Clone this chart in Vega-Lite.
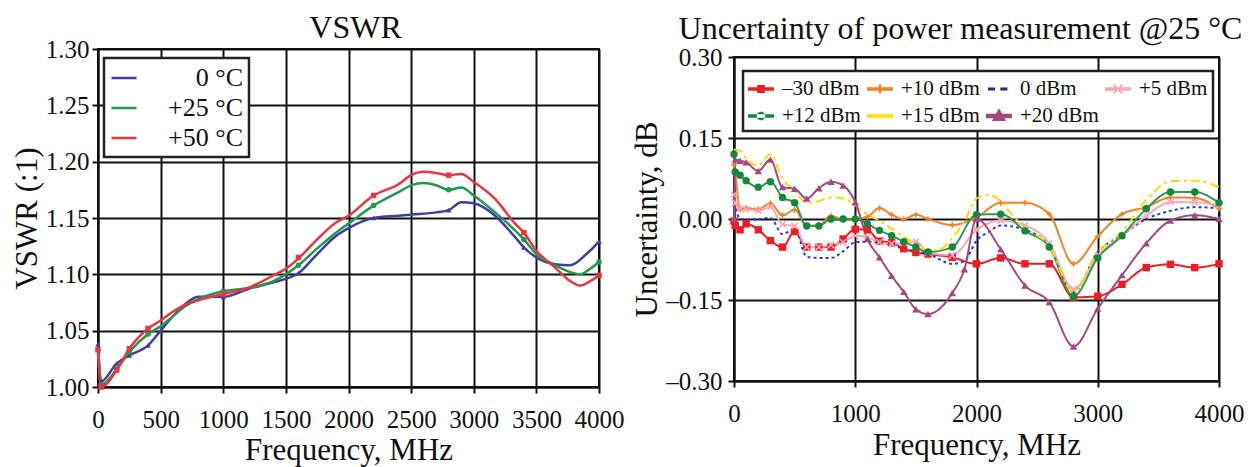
{
  "$schema": "https://vega.github.io/schema/vega-lite/v6.json",
  "padding": {"left": 10, "top": 11, "right": 5, "bottom": 5},
  "bounds": "flush",
  "spacing": 135,
  "resolve": {"scale": {"color": "independent", "shape": "independent", "strokeDash": "independent", "strokeWidth": "independent"}, "legend": {"color": "independent", "shape": "independent", "strokeDash": "independent", "strokeWidth": "independent"}},
  "config": {
    "font": "Liberation Serif",
    "view": {"stroke": "#111", "strokeWidth": 2},
    "axis": {"domainColor": "#111", "domainWidth": 2, "gridColor": "#111", "gridWidth": 2, "gridOpacity": 1, "tickColor": "#111", "tickWidth": 2, "tickSize": 6, "labelFont": "Liberation Serif", "labelFontSize": 25, "labelColor": "#111", "titleFont": "Liberation Serif", "titleFontSize": 31, "titleFontWeight": "normal", "titleColor": "#111", "labelOverlap": false, "labelFlush": false},
    "title": {"font": "Liberation Serif", "fontWeight": "normal", "color": "#111", "anchor": "middle"},
    "legend": {"labelFont": "Liberation Serif", "labelColor": "#111"}
  },
  "datasets": {
    "vswr": [
      {"s": "0 °C", "f": 0, "v": 1.038}, {"s": "0 °C", "f": 25, "v": 1.005}, {"s": "0 °C", "f": 150, "v": 1.021}, {"s": "0 °C", "f": 250, "v": 1.028}, {"s": "0 °C", "f": 400, "v": 1.037}, {"s": "0 °C", "f": 500, "v": 1.05}, {"s": "0 °C", "f": 600, "v": 1.063}, {"s": "0 °C", "f": 700, "v": 1.074}, {"s": "0 °C", "f": 800, "v": 1.08}, {"s": "0 °C", "f": 1000, "v": 1.08}, {"s": "0 °C", "f": 1200, "v": 1.087}, {"s": "0 °C", "f": 1400, "v": 1.093}, {"s": "0 °C", "f": 1500, "v": 1.096}, {"s": "0 °C", "f": 1600, "v": 1.101}, {"s": "0 °C", "f": 1750, "v": 1.118}, {"s": "0 °C", "f": 1900, "v": 1.134}, {"s": "0 °C", "f": 2000, "v": 1.141}, {"s": "0 °C", "f": 2200, "v": 1.15}, {"s": "0 °C", "f": 2400, "v": 1.152}, {"s": "0 °C", "f": 2500, "v": 1.153}, {"s": "0 °C", "f": 2700, "v": 1.155}, {"s": "0 °C", "f": 2800, "v": 1.157}, {"s": "0 °C", "f": 2900, "v": 1.164}, {"s": "0 °C", "f": 3000, "v": 1.163}, {"s": "0 °C", "f": 3170, "v": 1.152}, {"s": "0 °C", "f": 3330, "v": 1.133}, {"s": "0 °C", "f": 3400, "v": 1.124}, {"s": "0 °C", "f": 3500, "v": 1.115}, {"s": "0 °C", "f": 3650, "v": 1.109}, {"s": "0 °C", "f": 3770, "v": 1.108}, {"s": "0 °C", "f": 3900, "v": 1.118}, {"s": "0 °C", "f": 4000, "v": 1.129},
      {"s": "+25 °C", "f": 0, "v": 1.035}, {"s": "+25 °C", "f": 25, "v": 1.002}, {"s": "+25 °C", "f": 150, "v": 1.016}, {"s": "+25 °C", "f": 250, "v": 1.031}, {"s": "+25 °C", "f": 400, "v": 1.047}, {"s": "+25 °C", "f": 500, "v": 1.054}, {"s": "+25 °C", "f": 600, "v": 1.063}, {"s": "+25 °C", "f": 700, "v": 1.072}, {"s": "+25 °C", "f": 800, "v": 1.078}, {"s": "+25 °C", "f": 1000, "v": 1.085}, {"s": "+25 °C", "f": 1200, "v": 1.088}, {"s": "+25 °C", "f": 1400, "v": 1.094}, {"s": "+25 °C", "f": 1500, "v": 1.1}, {"s": "+25 °C", "f": 1600, "v": 1.108}, {"s": "+25 °C", "f": 1750, "v": 1.123}, {"s": "+25 °C", "f": 1900, "v": 1.137}, {"s": "+25 °C", "f": 2000, "v": 1.145}, {"s": "+25 °C", "f": 2200, "v": 1.161}, {"s": "+25 °C", "f": 2400, "v": 1.173}, {"s": "+25 °C", "f": 2500, "v": 1.179}, {"s": "+25 °C", "f": 2600, "v": 1.181}, {"s": "+25 °C", "f": 2700, "v": 1.179}, {"s": "+25 °C", "f": 2800, "v": 1.175}, {"s": "+25 °C", "f": 2900, "v": 1.177}, {"s": "+25 °C", "f": 3000, "v": 1.17}, {"s": "+25 °C", "f": 3170, "v": 1.155}, {"s": "+25 °C", "f": 3330, "v": 1.139}, {"s": "+25 °C", "f": 3400, "v": 1.131}, {"s": "+25 °C", "f": 3500, "v": 1.118}, {"s": "+25 °C", "f": 3650, "v": 1.108}, {"s": "+25 °C", "f": 3770, "v": 1.102}, {"s": "+25 °C", "f": 3850, "v": 1.1}, {"s": "+25 °C", "f": 3930, "v": 1.105}, {"s": "+25 °C", "f": 4000, "v": 1.111},
      {"s": "+50 °C", "f": 0, "v": 1.033}, {"s": "+50 °C", "f": 25, "v": 1.0}, {"s": "+50 °C", "f": 150, "v": 1.015}, {"s": "+50 °C", "f": 250, "v": 1.034}, {"s": "+50 °C", "f": 400, "v": 1.052}, {"s": "+50 °C", "f": 500, "v": 1.059}, {"s": "+50 °C", "f": 600, "v": 1.067}, {"s": "+50 °C", "f": 700, "v": 1.073}, {"s": "+50 °C", "f": 800, "v": 1.077}, {"s": "+50 °C", "f": 1000, "v": 1.0825}, {"s": "+50 °C", "f": 1200, "v": 1.088}, {"s": "+50 °C", "f": 1400, "v": 1.099}, {"s": "+50 °C", "f": 1500, "v": 1.105}, {"s": "+50 °C", "f": 1600, "v": 1.114}, {"s": "+50 °C", "f": 1750, "v": 1.131}, {"s": "+50 °C", "f": 1900, "v": 1.146}, {"s": "+50 °C", "f": 2000, "v": 1.152}, {"s": "+50 °C", "f": 2200, "v": 1.17}, {"s": "+50 °C", "f": 2400, "v": 1.18}, {"s": "+50 °C", "f": 2500, "v": 1.188}, {"s": "+50 °C", "f": 2600, "v": 1.191}, {"s": "+50 °C", "f": 2700, "v": 1.19}, {"s": "+50 °C", "f": 2800, "v": 1.188}, {"s": "+50 °C", "f": 2900, "v": 1.189}, {"s": "+50 °C", "f": 3000, "v": 1.182}, {"s": "+50 °C", "f": 3170, "v": 1.167}, {"s": "+50 °C", "f": 3330, "v": 1.145}, {"s": "+50 °C", "f": 3400, "v": 1.137}, {"s": "+50 °C", "f": 3500, "v": 1.121}, {"s": "+50 °C", "f": 3650, "v": 1.106}, {"s": "+50 °C", "f": 3770, "v": 1.094}, {"s": "+50 °C", "f": 3850, "v": 1.09}, {"s": "+50 °C", "f": 3930, "v": 1.094}, {"s": "+50 °C", "f": 4000, "v": 1.099}
    ],
    "vswrm": [
      {"s": "0 °C", "f": 0, "v": 1.038}, {"s": "0 °C", "f": 25, "v": 1.005}, {"s": "0 °C", "f": 150, "v": 1.021}, {"s": "0 °C", "f": 250, "v": 1.028}, {"s": "0 °C", "f": 400, "v": 1.037}, {"s": "0 °C", "f": 500, "v": 1.05}, {"s": "0 °C", "f": 1000, "v": 1.08}, {"s": "0 °C", "f": 1600, "v": 1.101}, {"s": "0 °C", "f": 2200, "v": 1.15}, {"s": "0 °C", "f": 2800, "v": 1.157}, {"s": "0 °C", "f": 3400, "v": 1.124}, {"s": "0 °C", "f": 4000, "v": 1.129},
      {"s": "+25 °C", "f": 25, "v": 1.002}, {"s": "+25 °C", "f": 150, "v": 1.016}, {"s": "+25 °C", "f": 250, "v": 1.031}, {"s": "+25 °C", "f": 400, "v": 1.047}, {"s": "+25 °C", "f": 1000, "v": 1.085}, {"s": "+25 °C", "f": 1600, "v": 1.108}, {"s": "+25 °C", "f": 2200, "v": 1.161}, {"s": "+25 °C", "f": 2800, "v": 1.175}, {"s": "+25 °C", "f": 3400, "v": 1.131}, {"s": "+25 °C", "f": 4000, "v": 1.111},
      {"s": "+50 °C", "f": 0, "v": 1.033}, {"s": "+50 °C", "f": 25, "v": 1.0}, {"s": "+50 °C", "f": 150, "v": 1.015}, {"s": "+50 °C", "f": 250, "v": 1.034}, {"s": "+50 °C", "f": 400, "v": 1.052}, {"s": "+50 °C", "f": 1000, "v": 1.0825}, {"s": "+50 °C", "f": 1600, "v": 1.115}, {"s": "+50 °C", "f": 2200, "v": 1.17}, {"s": "+50 °C", "f": 2800, "v": 1.188}, {"s": "+50 °C", "f": 3400, "v": 1.137}, {"s": "+50 °C", "f": 4000, "v": 1.099}
    ],
    "unc": [
      {"s": "–30 dBm", "f": 0, "v": -0.004}, {"s": "–30 dBm", "f": 10, "v": -0.012}, {"s": "–30 dBm", "f": 50, "v": -0.02}, {"s": "–30 dBm", "f": 100, "v": -0.009}, {"s": "–30 dBm", "f": 200, "v": -0.02}, {"s": "–30 dBm", "f": 300, "v": -0.04}, {"s": "–30 dBm", "f": 400, "v": -0.052}, {"s": "–30 dBm", "f": 500, "v": -0.023}, {"s": "–30 dBm", "f": 600, "v": -0.052}, {"s": "–30 dBm", "f": 700, "v": -0.052}, {"s": "–30 dBm", "f": 800, "v": -0.052}, {"s": "–30 dBm", "f": 900, "v": -0.037}, {"s": "–30 dBm", "f": 1000, "v": -0.019}, {"s": "–30 dBm", "f": 1100, "v": -0.02}, {"s": "–30 dBm", "f": 1200, "v": -0.041}, {"s": "–30 dBm", "f": 1300, "v": -0.044}, {"s": "–30 dBm", "f": 1400, "v": -0.055}, {"s": "–30 dBm", "f": 1500, "v": -0.062}, {"s": "–30 dBm", "f": 1600, "v": -0.065}, {"s": "–30 dBm", "f": 1800, "v": -0.071}, {"s": "–30 dBm", "f": 2000, "v": -0.083}, {"s": "–30 dBm", "f": 2200, "v": -0.072}, {"s": "–30 dBm", "f": 2400, "v": -0.083}, {"s": "–30 dBm", "f": 2600, "v": -0.083}, {"s": "–30 dBm", "f": 2800, "v": -0.145}, {"s": "–30 dBm", "f": 3000, "v": -0.143}, {"s": "–30 dBm", "f": 3200, "v": -0.121}, {"s": "–30 dBm", "f": 3400, "v": -0.09}, {"s": "–30 dBm", "f": 3600, "v": -0.084}, {"s": "–30 dBm", "f": 3800, "v": -0.09}, {"s": "–30 dBm", "f": 4000, "v": -0.083},
      {"s": "+10 dBm", "f": 0, "v": 0.1}, {"s": "+10 dBm", "f": 10, "v": 0.085}, {"s": "+10 dBm", "f": 50, "v": 0.018}, {"s": "+10 dBm", "f": 100, "v": 0.02}, {"s": "+10 dBm", "f": 200, "v": 0.018}, {"s": "+10 dBm", "f": 300, "v": 0.029}, {"s": "+10 dBm", "f": 400, "v": 0.007}, {"s": "+10 dBm", "f": 500, "v": 0.017}, {"s": "+10 dBm", "f": 600, "v": -0.012}, {"s": "+10 dBm", "f": 700, "v": -0.012}, {"s": "+10 dBm", "f": 800, "v": 0.006}, {"s": "+10 dBm", "f": 900, "v": -0.001}, {"s": "+10 dBm", "f": 1000, "v": 0.0}, {"s": "+10 dBm", "f": 1100, "v": 0.004}, {"s": "+10 dBm", "f": 1200, "v": 0.02}, {"s": "+10 dBm", "f": 1300, "v": 0.008}, {"s": "+10 dBm", "f": 1400, "v": 0.0}, {"s": "+10 dBm", "f": 1500, "v": 0.008}, {"s": "+10 dBm", "f": 1600, "v": 0.0}, {"s": "+10 dBm", "f": 1800, "v": -0.011}, {"s": "+10 dBm", "f": 2000, "v": 0.003}, {"s": "+10 dBm", "f": 2200, "v": 0.03}, {"s": "+10 dBm", "f": 2400, "v": 0.03}, {"s": "+10 dBm", "f": 2600, "v": 0.009}, {"s": "+10 dBm", "f": 2800, "v": -0.083}, {"s": "+10 dBm", "f": 3000, "v": -0.032}, {"s": "+10 dBm", "f": 3200, "v": 0.009}, {"s": "+10 dBm", "f": 3400, "v": 0.022}, {"s": "+10 dBm", "f": 3600, "v": 0.04}, {"s": "+10 dBm", "f": 3800, "v": 0.039}, {"s": "+10 dBm", "f": 4000, "v": 0.019},
      {"s": "0 dBm", "f": 0, "v": 0.03}, {"s": "0 dBm", "f": 10, "v": 0.022}, {"s": "0 dBm", "f": 50, "v": 0.0}, {"s": "0 dBm", "f": 100, "v": -0.001}, {"s": "0 dBm", "f": 200, "v": 0.0}, {"s": "0 dBm", "f": 300, "v": 0.002}, {"s": "0 dBm", "f": 400, "v": -0.028}, {"s": "0 dBm", "f": 500, "v": -0.018}, {"s": "0 dBm", "f": 600, "v": -0.07}, {"s": "0 dBm", "f": 700, "v": -0.072}, {"s": "0 dBm", "f": 800, "v": -0.072}, {"s": "0 dBm", "f": 900, "v": -0.06}, {"s": "0 dBm", "f": 1000, "v": -0.043}, {"s": "0 dBm", "f": 1100, "v": -0.042}, {"s": "0 dBm", "f": 1200, "v": -0.044}, {"s": "0 dBm", "f": 1300, "v": -0.049}, {"s": "0 dBm", "f": 1400, "v": -0.055}, {"s": "0 dBm", "f": 1500, "v": -0.06}, {"s": "0 dBm", "f": 1600, "v": -0.065}, {"s": "0 dBm", "f": 1800, "v": -0.083}, {"s": "0 dBm", "f": 1900, "v": -0.078}, {"s": "0 dBm", "f": 2000, "v": -0.04}, {"s": "0 dBm", "f": 2100, "v": -0.024}, {"s": "0 dBm", "f": 2200, "v": -0.012}, {"s": "0 dBm", "f": 2400, "v": -0.02}, {"s": "0 dBm", "f": 2600, "v": -0.05}, {"s": "0 dBm", "f": 2800, "v": -0.135}, {"s": "0 dBm", "f": 3000, "v": -0.061}, {"s": "0 dBm", "f": 3200, "v": -0.03}, {"s": "0 dBm", "f": 3400, "v": 0.0}, {"s": "0 dBm", "f": 3600, "v": 0.015}, {"s": "0 dBm", "f": 3800, "v": 0.022}, {"s": "0 dBm", "f": 4000, "v": 0.02},
      {"s": "+5 dBm", "f": 0, "v": 0.045}, {"s": "+5 dBm", "f": 10, "v": 0.03}, {"s": "+5 dBm", "f": 50, "v": 0.019}, {"s": "+5 dBm", "f": 100, "v": 0.018}, {"s": "+5 dBm", "f": 200, "v": 0.016}, {"s": "+5 dBm", "f": 300, "v": 0.022}, {"s": "+5 dBm", "f": 400, "v": -0.01}, {"s": "+5 dBm", "f": 500, "v": -0.013}, {"s": "+5 dBm", "f": 600, "v": -0.052}, {"s": "+5 dBm", "f": 700, "v": -0.052}, {"s": "+5 dBm", "f": 800, "v": -0.048}, {"s": "+5 dBm", "f": 900, "v": -0.043}, {"s": "+5 dBm", "f": 1000, "v": -0.031}, {"s": "+5 dBm", "f": 1100, "v": -0.034}, {"s": "+5 dBm", "f": 1200, "v": -0.043}, {"s": "+5 dBm", "f": 1300, "v": -0.046}, {"s": "+5 dBm", "f": 1400, "v": -0.044}, {"s": "+5 dBm", "f": 1500, "v": -0.042}, {"s": "+5 dBm", "f": 1600, "v": -0.062}, {"s": "+5 dBm", "f": 1800, "v": -0.067}, {"s": "+5 dBm", "f": 2000, "v": -0.02}, {"s": "+5 dBm", "f": 2200, "v": -0.003}, {"s": "+5 dBm", "f": 2400, "v": -0.012}, {"s": "+5 dBm", "f": 2600, "v": -0.045}, {"s": "+5 dBm", "f": 2800, "v": -0.13}, {"s": "+5 dBm", "f": 3000, "v": -0.068}, {"s": "+5 dBm", "f": 3200, "v": -0.031}, {"s": "+5 dBm", "f": 3400, "v": 0.006}, {"s": "+5 dBm", "f": 3600, "v": 0.031}, {"s": "+5 dBm", "f": 3800, "v": 0.031}, {"s": "+5 dBm", "f": 4000, "v": 0.025},
      {"s": "+12 dBm", "f": 0, "v": 0.12}, {"s": "+12 dBm", "f": 10, "v": 0.087}, {"s": "+12 dBm", "f": 50, "v": 0.081}, {"s": "+12 dBm", "f": 100, "v": 0.071}, {"s": "+12 dBm", "f": 200, "v": 0.059}, {"s": "+12 dBm", "f": 300, "v": 0.069}, {"s": "+12 dBm", "f": 400, "v": 0.04}, {"s": "+12 dBm", "f": 500, "v": 0.03}, {"s": "+12 dBm", "f": 600, "v": -0.013}, {"s": "+12 dBm", "f": 700, "v": -0.013}, {"s": "+12 dBm", "f": 800, "v": 0.0}, {"s": "+12 dBm", "f": 900, "v": 0.0}, {"s": "+12 dBm", "f": 1000, "v": 0.0}, {"s": "+12 dBm", "f": 1100, "v": -0.009}, {"s": "+12 dBm", "f": 1200, "v": -0.021}, {"s": "+12 dBm", "f": 1300, "v": -0.031}, {"s": "+12 dBm", "f": 1400, "v": -0.042}, {"s": "+12 dBm", "f": 1500, "v": -0.052}, {"s": "+12 dBm", "f": 1600, "v": -0.061}, {"s": "+12 dBm", "f": 1800, "v": -0.052}, {"s": "+12 dBm", "f": 2000, "v": 0.008}, {"s": "+12 dBm", "f": 2200, "v": 0.009}, {"s": "+12 dBm", "f": 2400, "v": -0.022}, {"s": "+12 dBm", "f": 2600, "v": -0.052}, {"s": "+12 dBm", "f": 2800, "v": -0.143}, {"s": "+12 dBm", "f": 3000, "v": -0.072}, {"s": "+12 dBm", "f": 3200, "v": -0.031}, {"s": "+12 dBm", "f": 3400, "v": 0.019}, {"s": "+12 dBm", "f": 3600, "v": 0.05}, {"s": "+12 dBm", "f": 3800, "v": 0.05}, {"s": "+12 dBm", "f": 4000, "v": 0.03},
      {"s": "+15 dBm", "f": 0, "v": 0.13}, {"s": "+15 dBm", "f": 10, "v": 0.128}, {"s": "+15 dBm", "f": 50, "v": 0.127}, {"s": "+15 dBm", "f": 100, "v": 0.111}, {"s": "+15 dBm", "f": 200, "v": 0.099}, {"s": "+15 dBm", "f": 300, "v": 0.12}, {"s": "+15 dBm", "f": 400, "v": 0.075}, {"s": "+15 dBm", "f": 500, "v": 0.052}, {"s": "+15 dBm", "f": 600, "v": 0.03}, {"s": "+15 dBm", "f": 700, "v": 0.033}, {"s": "+15 dBm", "f": 800, "v": 0.04}, {"s": "+15 dBm", "f": 900, "v": 0.038}, {"s": "+15 dBm", "f": 1000, "v": 0.025}, {"s": "+15 dBm", "f": 1100, "v": 0.008}, {"s": "+15 dBm", "f": 1200, "v": -0.003}, {"s": "+15 dBm", "f": 1300, "v": -0.018}, {"s": "+15 dBm", "f": 1400, "v": -0.033}, {"s": "+15 dBm", "f": 1500, "v": -0.046}, {"s": "+15 dBm", "f": 1600, "v": -0.058}, {"s": "+15 dBm", "f": 1700, "v": -0.056}, {"s": "+15 dBm", "f": 1800, "v": -0.035}, {"s": "+15 dBm", "f": 1900, "v": -0.005}, {"s": "+15 dBm", "f": 2000, "v": 0.038}, {"s": "+15 dBm", "f": 2100, "v": 0.045}, {"s": "+15 dBm", "f": 2200, "v": 0.033}, {"s": "+15 dBm", "f": 2300, "v": 0.006}, {"s": "+15 dBm", "f": 2400, "v": -0.015}, {"s": "+15 dBm", "f": 2600, "v": -0.05}, {"s": "+15 dBm", "f": 2800, "v": -0.135}, {"s": "+15 dBm", "f": 3000, "v": -0.061}, {"s": "+15 dBm", "f": 3200, "v": -0.024}, {"s": "+15 dBm", "f": 3400, "v": 0.035}, {"s": "+15 dBm", "f": 3600, "v": 0.07}, {"s": "+15 dBm", "f": 3800, "v": 0.071}, {"s": "+15 dBm", "f": 4000, "v": 0.059},
      {"s": "+20 dBm", "f": 0, "v": 0.0}, {"s": "+20 dBm", "f": 10, "v": 0.11}, {"s": "+20 dBm", "f": 50, "v": 0.108}, {"s": "+20 dBm", "f": 100, "v": 0.105}, {"s": "+20 dBm", "f": 200, "v": 0.089}, {"s": "+20 dBm", "f": 300, "v": 0.11}, {"s": "+20 dBm", "f": 400, "v": 0.059}, {"s": "+20 dBm", "f": 500, "v": 0.056}, {"s": "+20 dBm", "f": 600, "v": 0.038}, {"s": "+20 dBm", "f": 700, "v": 0.057}, {"s": "+20 dBm", "f": 800, "v": 0.069}, {"s": "+20 dBm", "f": 900, "v": 0.062}, {"s": "+20 dBm", "f": 1000, "v": 0.031}, {"s": "+20 dBm", "f": 1100, "v": -0.037}, {"s": "+20 dBm", "f": 1200, "v": -0.071}, {"s": "+20 dBm", "f": 1300, "v": -0.105}, {"s": "+20 dBm", "f": 1400, "v": -0.135}, {"s": "+20 dBm", "f": 1500, "v": -0.167}, {"s": "+20 dBm", "f": 1600, "v": -0.176}, {"s": "+20 dBm", "f": 1800, "v": -0.137}, {"s": "+20 dBm", "f": 1900, "v": -0.093}, {"s": "+20 dBm", "f": 2000, "v": 0.0}, {"s": "+20 dBm", "f": 2200, "v": -0.056}, {"s": "+20 dBm", "f": 2400, "v": -0.123}, {"s": "+20 dBm", "f": 2600, "v": -0.154}, {"s": "+20 dBm", "f": 2800, "v": -0.236}, {"s": "+20 dBm", "f": 3000, "v": -0.166}, {"s": "+20 dBm", "f": 3200, "v": -0.104}, {"s": "+20 dBm", "f": 3400, "v": -0.045}, {"s": "+20 dBm", "f": 3600, "v": -0.003}, {"s": "+20 dBm", "f": 3800, "v": 0.007}, {"s": "+20 dBm", "f": 4000, "v": 0.0}
    ]
  },
  "hconcat": [
    {
      "width": 501,
      "height": 338,
      "title": {"text": "VSWR", "fontSize": 32, "offset": -33, "baseline": "alphabetic", "dx": 7},
      "resolve": {"scale": {"color": "independent", "shape": "independent"}, "legend": {"color": "independent", "shape": "independent"}},
      "layer": [
        {
          "data": {"name": "vswr"},
          "mark": {"type": "line", "strokeWidth": 2.5, "interpolate": "monotone"},
          "encoding": {
            "x": {"field": "f", "type": "quantitative", "scale": {"domain": [0, 4000], "nice": false}, "axis": {"values": [0, 500, 1000, 1500, 2000, 2500, 3000, 3500, 4000], "format": "d", "title": "Frequency, MHz", "labelPadding": 14, "titlePadding": 3}},
            "y": {"field": "v", "type": "quantitative", "scale": {"domain": [1.0, 1.3], "nice": false, "zero": false}, "axis": {"values": [1.0, 1.05, 1.1, 1.15, 1.2, 1.25, 1.3], "format": ".2f", "title": "VSWR (:1)", "labelPadding": 3, "titlePadding": 2}},
            "color": {
              "field": "s", "type": "nominal",
              "scale": {"domain": ["0 °C", "+25 °C", "+50 °C"], "range": ["#3f3fa3", "#1f9a4e", "#ec3440"]},
              "legend": {"title": null, "orient": "none", "legendX": 6, "legendY": 9, "symbolType": "stroke", "symbolSize": 625, "symbolStrokeWidth": 2.5, "labelFontSize": 26, "labelAlign": "right", "labelOffset": 105, "rowPadding": 3, "padding": 6, "strokeColor": "#222", "fillColor": "white", "encode": {"legend": {"update": {"strokeWidth": {"value": 2.5}}}}}
            }
          }
        },
        {
          "data": {"name": "vswrm"},
          "mark": {"type": "point", "filled": true, "size": 30, "opacity": 1},
          "encoding": {
            "x": {"field": "f", "type": "quantitative"},
            "y": {"field": "v", "type": "quantitative"},
            "color": {"field": "s", "type": "nominal", "scale": {"domain": ["0 °C", "+25 °C", "+50 °C"], "range": ["#3f3fa3", "#1f9a4e", "#ec3440"]}, "legend": null},
            "shape": {"field": "s", "type": "nominal", "scale": {"domain": ["0 °C", "+25 °C", "+50 °C"], "range": ["triangle-up", "circle", "square"]}, "legend": null}
          }
        }
      ]
    },
    {
      "spacing": 0,
      "bounds": "flush",
      "resolve": {"scale": {"color": "independent", "shape": "independent", "strokeDash": "independent", "strokeWidth": "independent"}, "legend": {"color": "independent", "shape": "independent", "strokeDash": "independent", "strokeWidth": "independent"}},
      "vconcat": [
        {"width": 485, "height": 8, "data": {"values": []}, "mark": {"type": "point", "opacity": 0}, "encoding": {}},
        {
          "width": 485,
          "height": 324,
          "title": {"text": "Uncertainty of power measurement @25 °C", "fontSize": 32, "offset": -26, "baseline": "alphabetic", "dx": -16},
          "data": {"name": "unc"},
          "resolve": {"scale": {"color": "independent", "shape": "independent"}, "legend": {"color": "independent", "shape": "independent"}},
          "layer": [
            {
              "mark": {"type": "line", "interpolate": "monotone"},
              "encoding": {
                "x": {"field": "f", "type": "quantitative", "scale": {"domain": [0, 4000], "nice": false}, "axis": {"values": [0, 1000, 2000, 3000, 4000], "format": "d", "title": "Frequency, MHz", "labelPadding": 14, "titlePadding": 4}},
                "y": {"field": "v", "type": "quantitative", "scale": {"domain": [-0.3, 0.3], "nice": false}, "axis": {"values": [-0.3, -0.15, 0, 0.15, 0.3], "labelExpr": "replace(replace(format(datum.value, '.2f'), '−', '–'), '-', '–')", "title": "Uncertainty, dB", "labelPadding": 6, "titlePadding": 2}},
                "color": {
                  "field": "s", "type": "nominal",
                  "scale": {"domain": ["–30 dBm", "+10 dBm", "0 dBm", "+5 dBm", "+12 dBm", "+15 dBm", "+20 dBm"], "range": ["#ee1c25", "#f58220", "#2a3ae0", "#f6a8b8", "#2f9a55", "#ffdc00", "#a4487f"]},
                  "legend": {
                    "title": null, "orient": "none", "legendX": 9, "legendY": 14, "columns": 4, "direction": "horizontal", "gridAlign": "each", "symbolType": "stroke", "symbolSize": 676, "labelFontSize": 21, "labelOffset": 8, "rowPadding": 4, "columnPadding": 6, "padding": 5, "strokeColor": "#222", "fillColor": "white",
                    "encode": {
                      "legend": {"update": {"strokeWidth": {"value": 2.5}}},
                      "symbols": {"update": {
                        "shape": {"signal": "['M-1,-0.14H1V0.14H-1Z M-0.3,-0.3H0.3V0.3H-0.3Z','M-1,-0.14H1V0.14H-1Z M0,-0.45L0.13,-0.13L0.45,0L0.13,0.13L0,0.45L-0.13,0.13L-0.45,0L-0.13,-0.13Z','M-0.85,-0.11H-0.3V0.11H-0.85Z M0.1,-0.11H0.65V0.11H0.1Z','M-1,-0.14H1V0.14H-1Z M-0.38,-0.28L-0.28,-0.38L0,-0.1L0.28,-0.38L0.38,-0.28L0.1,0L0.38,0.28L0.28,0.38L0,0.1L-0.28,0.38L-0.38,0.28L-0.1,0Z','M-1,-0.14H1V0.14H-1Z M-0.33,0A0.33,0.33,0,1,0,0.33,0A0.33,0.33,0,1,0,-0.33,0Z','M-1,-0.14H1V0.14H-1Z','M-1,-0.18H1V0.18H-1Z M0,-0.6L0.55,0.38H-0.55Z'][indexof(['–30 dBm','+10 dBm','0 dBm','+5 dBm','+12 dBm','+15 dBm','+20 dBm'], datum.value)]"},
                        "fill": {"signal": "['#ee1c25','#f58220','#2b2e83','#f6a8b8','#13893a','#ffe000','#a4487f'][indexof(['–30 dBm','+10 dBm','0 dBm','+5 dBm','+12 dBm','+15 dBm','+20 dBm'], datum.value)]"},
                        "stroke": {"value": "transparent"},
                        "strokeWidth": {"value": 0},
                        "strokeDash": {"value": [1, 0]},
                        "opacity": {"value": 1}
                      }}
                    }
                  }
                },
                "strokeDash": {"field": "s", "type": "nominal", "scale": {"domain": ["–30 dBm", "+10 dBm", "0 dBm", "+5 dBm", "+12 dBm", "+15 dBm", "+20 dBm"], "range": [[1, 0], [1, 0], [3, 3], [1, 0], [1, 0], [9, 4, 3, 4], [1, 0]]}, "legend": null},
                "strokeWidth": {"field": "s", "type": "nominal", "scale": {"domain": ["–30 dBm", "+10 dBm", "0 dBm", "+5 dBm", "+12 dBm", "+15 dBm", "+20 dBm"], "range": [2, 2, 3, 2, 2, 3, 2]}, "legend": null}
              }
            },
            {
              "transform": [{"filter": "datum.s !== '0 dBm' && datum.s !== '+15 dBm'"}],
              "mark": {"type": "point", "filled": true, "size": 55, "opacity": 1},
              "encoding": {
                "x": {"field": "f", "type": "quantitative"},
                "y": {"field": "v", "type": "quantitative"},
                "color": {"field": "s", "type": "nominal", "scale": {"domain": ["–30 dBm", "+10 dBm", "0 dBm", "+5 dBm", "+12 dBm", "+15 dBm", "+20 dBm"], "range": ["#ee1c25", "#f58220", "#2a3ae0", "#f6a8b8", "#13893a", "#ffdc00", "#a4487f"]}, "legend": null},
                "shape": {"field": "s", "type": "nominal", "scale": {"domain": ["–30 dBm", "+10 dBm", "0 dBm", "+5 dBm", "+12 dBm", "+15 dBm", "+20 dBm"], "range": ["square", "M0,-1L0.3,-0.3L1,0L0.3,0.3L0,1L-0.3,0.3L-1,0L-0.3,-0.3Z", "circle", "M-1,-0.7L-0.7,-1L0,-0.3L0.7,-1L1,-0.7L0.3,0L1,0.7L0.7,1L0,0.3L-0.7,1L-1,0.7L-0.3,0Z", "circle", "circle", "triangle-up"]}, "legend": null}
              }
            }
          ]
        }
      ]
    }
  ]
}
